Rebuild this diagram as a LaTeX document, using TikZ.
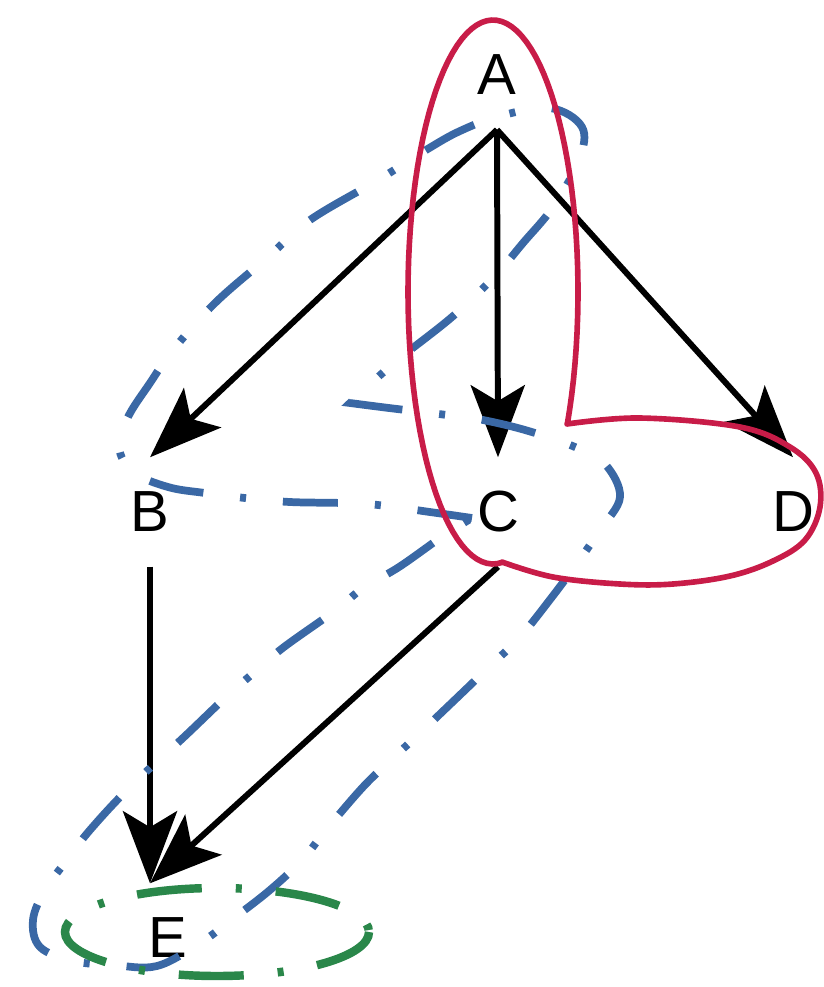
\documentclass[tikz,border=0pt]{standalone}
\usepackage{fontspec}
\setmainfont{Liberation Sans}
\usetikzlibrary{arrows.meta}
\definecolor{hullred}{RGB}{200,28,72}
\definecolor{hullblue}{RGB}{58,104,165}
\definecolor{hullgreen}{RGB}{42,135,74}

\begin{document}
\begin{tikzpicture}[
    x=0.01cm, y=-0.01cm,
    >={Stealth[length=7.2mm, width=5.4mm, inset=1.6mm]},
    vertex/.style={
        minimum width=0.6cm,
        minimum height=1.08cm,
        inner sep=0pt,
        font=\fontsize{16.5}{19}\selectfont
    },
    edge/.style={->, line width=1.7pt},
    redhull/.style={draw=hullred, line width=1.6pt, line join=round},
    bluehull/.style={draw=hullblue, line width=2.2pt,
        dash pattern=on 5.5mm off 3.7mm on 0.6mm off 3.7mm},
    greenhull/.style={draw=hullgreen, line width=2.4pt,
        dash pattern=on 6.5mm off 3.4mm on 0.6mm off 3.4mm}
]
\useasboundingbox (0,0) rectangle (824,987);

% Nodes
\node[vertex] (A) at (497,75) {A};
\node[vertex] (B) at (150,512) {B};
\node[vertex] (C) at (498,512) {C};
\node[vertex] (D) at (793,512) {D};
\node[vertex] (E) at (168,938) {E};

% Edges out of A
\draw[edge] (A.south) -- (B.north);
\draw[edge] (A.south) -- (C.north);
\draw[edge] (A.south) -- (D.north);

% Edges into E
\draw[edge] (B.south) -- (B |- E.north);
\draw[edge] (C.south) -- (B |- E.north);

% Blue group: A, B, C, E
\draw[bluehull] plot[smooth, tension=0.6] coordinates {
    (472,518) (437,513) (378,505) (342,503) (290,502) (245,498) (205,493)
    (168,487) (133,472) (119,447) (128,417) (150,383) (173,350) (215,303)
    (268,257) (310,220) (378,180) (426,150) (460,131) (500,116) (550,108)
    (582,127) (579,160) (553,207) (523,243) (494,277) (452,317) (394,363)
    (350,403)}
  -- plot[smooth, tension=0.6] coordinates {
    (350,403) (389,408) (447,415) (478,419) (525,430) (575,447) (605,464)
    (620,497) (600,530) (578,562) (552,597) (520,637) (489,667) (462,693)
    (420,733) (391,760) (363,787) (326,830) (302,860) (270,890) (230,921)
    (200,943) (157,966) (113,965) (73,961) (40,947) (33,920) (45,890)
    (67,860) (90,830) (130,787) (184,737) (226,697) (257,670) (284,647)
    (336,610) (363,588) (399,567) (443,536) (472,518)}
  -- cycle;

% Green group: E
\draw[greenhull] (217,932) ellipse [x radius=152, y radius=44];

% Red group: A, C, D
\draw[redhull] plot[domain=-29:276, samples=90, variable=\t]
    ({493+85*cos(\t)}, {292-272*sin(\t)})
  -- plot[smooth, tension=0.6] coordinates {
    (502,562) (553,577) (620,584) (673,584) (730,576) (773,561) (805,540)
    (820,507) (816,473) (790,447) (740,427) (640,418) (567,424)}
  -- cycle;

\end{tikzpicture}
\end{document}
